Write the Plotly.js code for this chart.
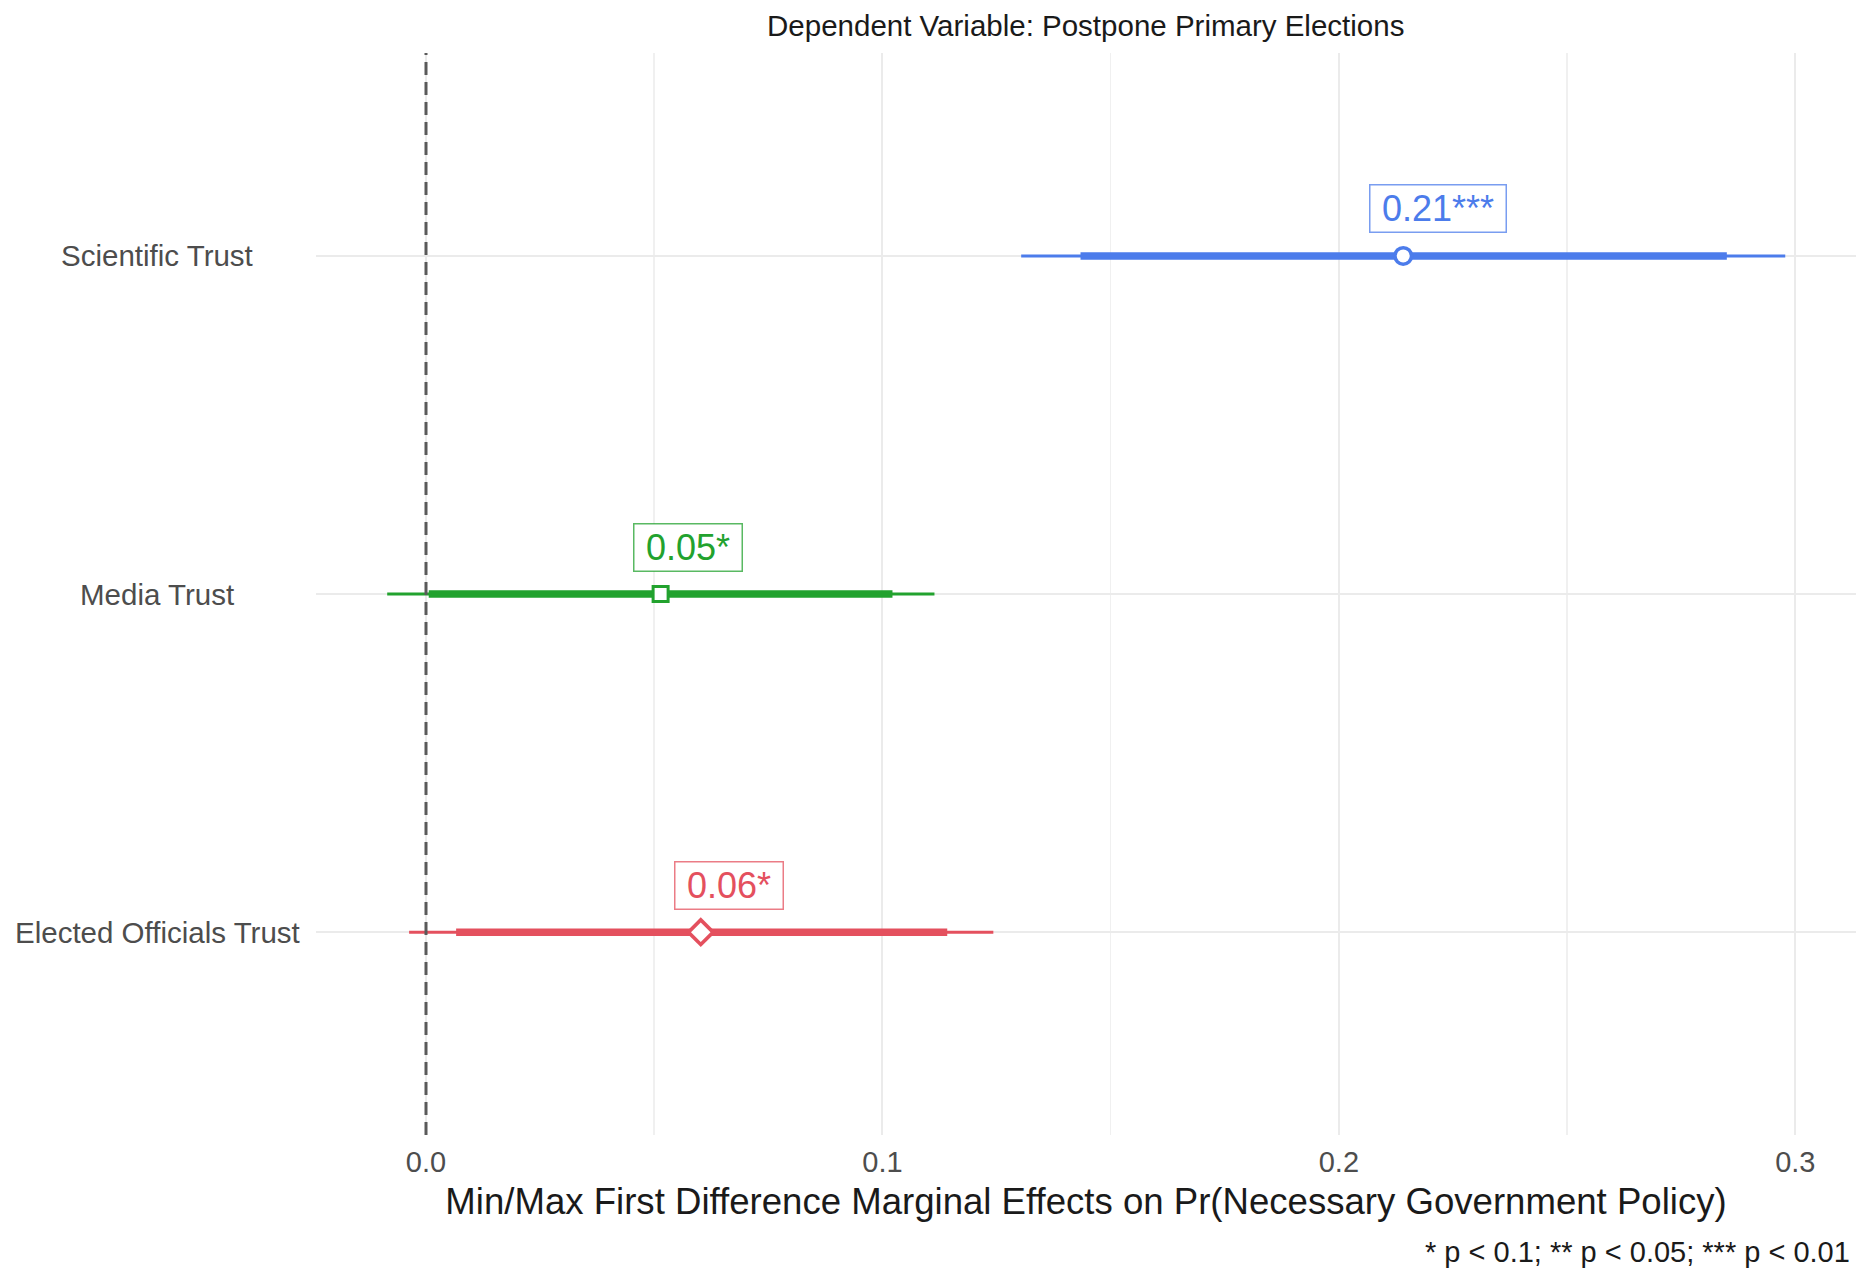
<!DOCTYPE html>
<html>
<head>
<meta charset="utf-8">
<script src="https://cdn.plot.ly/plotly-3.0.1.min.js"></script>
<style>
  html, body { margin: 0; padding: 0; background: #ffffff; }
  #chart { width: 1871px; height: 1275px; }
</style>
</head>
<body>
<div id="chart"></div>
<script>
// Trust measures, bottom to top
const categories = ["Elected Officials Trust", "Media Trust", "Scientific Trust"];
// First-difference point estimates
const estimate = [0.0602, 0.0514, 0.2141];
// Outer (95%) interval
const lower95 = [-0.0037, -0.0085, 0.1304];
const upper95 = [0.1243, 0.1114, 0.2978];
// Inner (90%) interval
const lower90 = [0.0066, 0.0006, 0.1434];
const upper90 = [0.1142, 0.1022, 0.2850];
// Significance stars
const stars = ["*", "*", "***"];
const xTicks = [0, 0.1, 0.2, 0.3];
const xTickLabels = ["0.0", "0.1", "0.2", "0.3"];

const colors = ["#E4505E", "#22A22E", "#4C7CEB"];
const borderColors = ["rgba(228,80,94,0.75)", "rgba(34,162,46,0.75)", "rgba(76,124,235,0.75)"];
const symbols = ["diamond", "square", "circle"];
const outerSize = { diamond: 23, square: 18, circle: 20 };
const innerSize = { diamond: 15, square: 12, circle: 13 };
const FONT = "Liberation Sans, Arial, Helvetica, sans-serif";

const traces = [];
categories.forEach((cat, i) => {
  traces.push({
    type: "scatter", mode: "lines",
    x: [lower95[i], upper95[i]], y: [cat, cat],
    line: { color: colors[i], width: 3 },
    hoverinfo: "skip", showlegend: false
  });
  traces.push({
    type: "scatter", mode: "lines",
    x: [lower90[i], upper90[i]], y: [cat, cat],
    line: { color: colors[i], width: 7.5 },
    hoverinfo: "skip", showlegend: false
  });
  // open marker: coloured outline with a white centre
  traces.push({
    type: "scatter", mode: "markers",
    x: [estimate[i]], y: [cat],
    marker: { symbol: symbols[i], size: outerSize[symbols[i]], color: colors[i],
              line: { width: 0 } },
    showlegend: false
  });
  traces.push({
    type: "scatter", mode: "markers",
    x: [estimate[i]], y: [cat],
    marker: { symbol: symbols[i], size: innerSize[symbols[i]], color: "#ffffff",
              line: { width: 0 } },
    hoverinfo: "skip", showlegend: false
  });
});

const labelShift = [28, 27, 35];
const labelWidth = [101, 101, 129];
const annotations = [];
categories.forEach((cat, i) => {
  annotations.push({
    x: estimate[i], y: cat, xref: "x", yref: "y",
    text: estimate[i].toFixed(2) + stars[i],
    showarrow: false, xshift: labelShift[i], yshift: 47,
    font: { family: FONT, size: 36, color: colors[i] },
    width: labelWidth[i], height: 40, align: "center", valign: "middle",
    bgcolor: "#ffffff", bordercolor: borderColors[i], borderwidth: 1.5, borderpad: 3,
    xanchor: "center", yanchor: "middle"
  });
  annotations.push({
    x: -0.1032, y: cat, xref: "paper", yref: "y",
    text: cat, showarrow: false,
    font: { family: FONT, size: 29.5, color: "#4D4D4D" },
    xanchor: "center", yanchor: "middle"
  });
});
annotations.push({
  x: 0.9974, y: -0.108, xref: "paper", yref: "paper",
  text: "* p < 0.1; ** p < 0.05; *** p < 0.01",
  showarrow: false, xanchor: "right", yanchor: "middle",
  font: { family: FONT, size: 29, color: "#1A1A1A" }
});

const layout = {
  width: 1871, height: 1275,
  paper_bgcolor: "#ffffff", plot_bgcolor: "#ffffff",
  margin: { l: 316, r: 15, t: 53, b: 140 },
  font: { family: FONT, color: "#4D4D4D" },
  title: {
    text: "Dependent Variable: Postpone Primary Elections",
    font: { family: FONT, size: 29.5, color: "#1A1A1A" },
    x: 0.5803, xanchor: "center", y: 1 - 26 / 1275, yanchor: "middle", yref: "container"
  },
  xaxis: {
    range: [-0.0241, 0.3133],
    tickvals: xTicks, ticktext: xTickLabels,
    ticks: "outside", ticklen: 1, tickcolor: "rgba(0,0,0,0)",
    tickfont: { family: FONT, size: 29, color: "#4D4D4D" },
    showgrid: true, gridcolor: "#EBEBEB", gridwidth: 2,
    minor: { dtick: 0.05, tick0: 0, showgrid: true, gridcolor: "#F0F0F0", gridwidth: 1.5 },
    zeroline: false, showline: false,
    title: {
      text: "Min/Max First Difference Marginal Effects on Pr(Necessary Government Policy)",
      font: { family: FONT, size: 36.6, color: "#1A1A1A" },
      standoff: 11
    },
    automargin: false
  },
  yaxis: {
    type: "category", categoryorder: "array", categoryarray: categories,
    range: [-0.6, 2.6],
    showticklabels: false, ticks: "",
    showgrid: true, gridcolor: "#EBEBEB", gridwidth: 2,
    zeroline: false, showline: false, automargin: false
  },
  shapes: [{
    type: "line", xref: "x", yref: "paper", x0: 0, x1: 0, y0: 0, y1: 1,
    line: { color: "#5A5A5A", width: 3, dash: "13px,7px" }, layer: "above"
  }],
  annotations: annotations
};

Plotly.newPlot("chart", traces, layout, { displayModeBar: false, staticPlot: true });
</script>
</body>
</html>
